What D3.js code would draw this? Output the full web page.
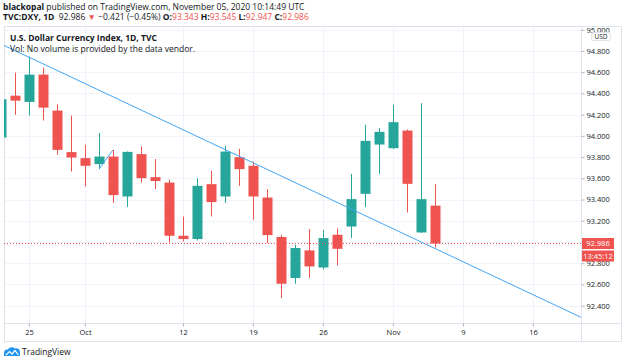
<!DOCTYPE html>
<html>
<head>
<meta charset="utf-8">
<script src="https://cdn.jsdelivr.net/npm/d3@7/dist/d3.min.js"></script>
<style>
    html, body { margin: 0; padding: 0; background: #fff; }
    svg { display: block; font-family: "Open Sans", "Noto Sans", sans-serif; }
</style>
</head>
<body>
<svg id="chart" width="625" height="364"></svg>
<script>
// daily candles, TVC:DXY
var dates = ["2020-09-23", "2020-09-24", "2020-09-25", "2020-09-28", "2020-09-29", "2020-09-30",
    "2020-10-01", "2020-10-02", "2020-10-05", "2020-10-06", "2020-10-07", "2020-10-08", "2020-10-09",
    "2020-10-12", "2020-10-13", "2020-10-14", "2020-10-15", "2020-10-16", "2020-10-19", "2020-10-20",
    "2020-10-21", "2020-10-22", "2020-10-23", "2020-10-26", "2020-10-27", "2020-10-28", "2020-10-29",
    "2020-10-30", "2020-11-02", "2020-11-03", "2020-11-04", "2020-11-05"];
var opens = [93.984, 94.379, 94.320, 94.577, 94.238, 93.847, 93.790, 93.734, 93.805, 93.429, 93.828, 93.611, 93.560,
    93.059, 93.028, 93.545, 93.429, 93.799, 93.718, 93.419, 93.047, 92.661, 92.921, 92.760, 93.068, 93.146, 93.454,
    93.918, 93.884, 94.050, 93.090, 93.343];
var highs = [94.420, 94.596, 94.746, 94.643, 94.298, 94.191, 93.915, 94.028, 93.868, 93.853, 93.899, 93.781, 93.586,
    93.240, 93.598, 93.671, 93.906, 93.878, 93.758, 93.498, 93.068, 92.974, 93.122, 93.115, 93.128, 93.642, 94.104,
    94.072, 94.292, 94.060, 94.308, 93.545];
var lows = [93.930, 94.198, 94.191, 94.144, 93.821, 93.664, 93.523, 93.687, 93.367, 93.329, 93.560, 93.498, 92.996,
    93.005, 93.015, 93.240, 93.367, 93.529, 93.209, 92.990, 92.472, 92.607, 92.661, 92.739, 92.779, 93.037, 93.329,
    93.642, 93.875, 93.278, 93.085, 92.947];
var closes = [94.345, 94.332, 94.577, 94.266, 93.868, 93.796, 93.718, 93.805, 93.442, 93.849, 93.602, 93.574, 93.059,
    93.028, 93.529, 93.376, 93.852, 93.687, 93.429, 93.065, 92.607, 92.943, 92.770, 93.037, 92.936, 93.404, 93.953,
    94.038, 94.129, 93.548, 93.404, 92.986];

var priceTicks = [92.4, 92.6, 92.8, 93.0, 93.2, 93.4, 93.6, 93.8, 94.0, 94.2, 94.4, 94.6, 94.8, 95.0];
var dateTicks = ["2020-09-25", "2020-10-01", "2020-10-12", "2020-10-19", "2020-10-26", "2020-11-02", "2020-11-09", "2020-11-16"];
var dateTickLabels = ["25", "Oct", "12", "19", "26", "Nov", "9", "16"];

// drawn trend lines: [date, price] pairs
var trendMain = [["2020-09-25", 94.741], ["2020-10-15", 93.871]];
var trendShort = [["2020-10-02", 93.687], ["2020-10-05", 93.868]];

var lastPrice = 92.986;
var countdown = "13:45:12";

(function () {
    var svg = d3.select("#chart"),
        pane = { left: 4, top: 26, right: 581, bottom: 323 },
        axisBottom = 341,
        frameRight = 621,
        up = "#26a69a",
        down = "#ef5350",
        gridColor = "#f0f3fa",
        borderColor = "#e0e3eb",
        textColor = "#131722";

    var parse = d3.timeParse("%Y-%m-%d"),
        fmt = d3.timeFormat("%Y-%m-%d");

    // trading days (weekdays) so that future ticks line up with the bars
    var days = d3.timeDay.range(parse(dates[0]), parse("2020-11-30")).filter(function (d) {
        return d.getDay() !== 0 && d.getDay() !== 6;
    });
    var idx = {};
    days.forEach(function (d, i) { idx[fmt(d)] = i; });

    var data = dates.map(function (d, i) {
        return { i: idx[d], o: opens[i], h: highs[i], l: lows[i], c: closes[i] };
    });

    var x = d3.scaleLinear()
        .domain([0.214, 41.43])
        .range([pane.left, pane.right]);

    var y = d3.scaleLinear()
        .domain([92.237, 95.035])
        .range([pane.bottom, pane.top]);

    var defs = svg.append("defs");
    defs.append("clipPath").attr("id", "paneClip")
        .append("rect")
        .attr("x", pane.left).attr("y", pane.top)
        .attr("width", pane.right - pane.left).attr("height", pane.bottom - pane.top);

    // header
    var h1 = svg.append("text").attr("x", 3).attr("y", 10)
        .style("font-size", "8.5px").attr("fill", textColor);
    h1.append("tspan").style("font-weight", "bold").text("blackopal");
    h1.append("tspan").text(" published on TradingView.com, November 05, 2020 10:14:49 UTC");

    var h2 = svg.append("text").attr("x", 3).attr("y", 20)
        .style("font-size", "8.5px").attr("fill", textColor);
    h2.append("tspan").style("font-weight", "bold").text("TVC:DXY, 1D");
    h2.append("tspan").text("\u00a0 92.986 ");
    h2.append("tspan").attr("fill", down).text("\u25bc");
    h2.append("tspan").text(" \u22120.421 (\u22120.45%) ");
    [["O:", opens[opens.length - 1]], ["H:", highs[highs.length - 1]],
     ["L:", lows[lows.length - 1]], ["C:", closes[closes.length - 1]]].forEach(function (p, k) {
        h2.append("tspan").style("font-weight", "bold").text((k ? " " : "") + p[0]);
        h2.append("tspan").attr("fill", down).text(p[1].toFixed(3));
    });

    // grid
    var g = svg.append("g");
    g.selectAll(".hgrid")
        .data(priceTicks)
        .enter().append("line")
        .attr("x1", pane.left).attr("x2", pane.right)
        .attr("y1", function (d) { return Math.round(y(d)) + 0.5; })
        .attr("y2", function (d) { return Math.round(y(d)) + 0.5; })
        .attr("stroke", gridColor);
    g.selectAll(".vgrid")
        .data(dateTicks)
        .enter().append("line")
        .attr("x1", function (d) { return Math.round(x(idx[d])) + 0.5; })
        .attr("x2", function (d) { return Math.round(x(idx[d])) + 0.5; })
        .attr("y1", pane.top).attr("y2", pane.bottom)
        .attr("stroke", gridColor);

    // frame
    svg.append("rect")
        .attr("x", pane.left + 0.5).attr("y", pane.top + 0.5)
        .attr("width", frameRight - pane.left).attr("height", axisBottom - pane.top)
        .attr("fill", "none").attr("stroke", borderColor);
    svg.append("line")
        .attr("x1", pane.right + 0.5).attr("x2", pane.right + 0.5)
        .attr("y1", pane.top).attr("y2", axisBottom)
        .attr("stroke", borderColor);
    svg.append("line")
        .attr("x1", pane.left).attr("x2", frameRight)
        .attr("y1", pane.bottom + 0.5).attr("y2", pane.bottom + 0.5)
        .attr("stroke", borderColor);

    var plot = svg.append("g").attr("clip-path", "url(#paneClip)");

    // candles
    var candle = plot.selectAll(".candle")
        .data(data)
        .enter().append("g")
        .attr("class", "candle");

    candle.append("line")
        .attr("x1", function (d) { return Math.round(x(d.i)) + 0.5; })
        .attr("x2", function (d) { return Math.round(x(d.i)) + 0.5; })
        .attr("y1", function (d) { return y(d.h); })
        .attr("y2", function (d) { return y(d.l); })
        .attr("stroke", function (d) { return d.c >= d.o ? up : down; });

    candle.append("rect")
        .attr("x", function (d) { return Math.round(x(d.i)) - 4.5; })
        .attr("width", 10)
        .attr("y", function (d) { return y(Math.max(d.o, d.c)); })
        .attr("height", function (d) { return Math.max(1, Math.abs(y(d.o) - y(d.c))); })
        .attr("fill", function (d) { return d.c >= d.o ? up : down; });

    // trend lines
    function trend(pts, extend) {
        var i0 = idx[pts[0][0]], i1 = idx[pts[1][0]],
            v0 = pts[0][1], v1 = pts[1][1],
            slope = (v1 - v0) / (i1 - i0);
        var a = extend ? x.domain()[0] : i0,
            b = extend ? x.domain()[1] : i1;
        plot.append("line")
            .attr("x1", x(a)).attr("y1", y(v0 + (a - i0) * slope))
            .attr("x2", x(b)).attr("y2", y(v0 + (b - i0) * slope))
            .attr("stroke", "#42a5f5")
            .attr("stroke-width", 1);
    }
    trend(trendMain, true);
    trend(trendShort, false);

    // last price line
    plot.append("line")
        .attr("x1", pane.left).attr("x2", pane.right)
        .attr("y1", Math.round(y(lastPrice)) + 0.5).attr("y2", Math.round(y(lastPrice)) + 0.5)
        .attr("stroke", down)
        .attr("stroke-dasharray", "1,2");

    // pane legend
    svg.append("text").attr("x", 10).attr("y", 41)
        .style("font-size", "8.5px").style("font-weight", "bold").attr("fill", textColor)
        .text("U.S. Dollar Currency Index, 1D, TVC");
    svg.append("text").attr("x", 10).attr("y", 52)
        .style("font-size", "8.5px").attr("fill", textColor)
        .text("Vol: No volume is provided by the data vendor.");

    // price axis; labels hidden behind the last price badge are dropped, as TradingView does
    var ly = y(lastPrice);
    var yAxis = svg.append("g")
        .attr("transform", "translate(" + (pane.right + 0.5) + ",0)")
        .call(d3.axisRight(y).tickValues(priceTicks).tickFormat(d3.format(".3f")).tickSize(3).tickPadding(2));
    yAxis.select(".domain").remove();
    yAxis.selectAll("line").attr("stroke", "#b2b5be");
    yAxis.selectAll("text").attr("fill", textColor).style("font-size", "7.5px").style("font-family", "\"Open Sans\", sans-serif");
    yAxis.selectAll(".tick").filter(function (d) { return Math.abs(y(d) - ly) < 7; }).select("text").remove();

    // USD badge
    svg.append("rect")
        .attr("x", 591.5).attr("y", 32.5).attr("width", 19).attr("height", 8).attr("rx", 2)
        .attr("fill", "#fff").attr("stroke", borderColor);
    svg.append("text").attr("x", 601).attr("y", 39)
        .attr("text-anchor", "middle").style("font-size", "6.5px").attr("fill", textColor).text("USD");

    // last price & countdown labels
    svg.append("rect").attr("x", pane.right + 1).attr("y", ly - 5.5).attr("width", 32).attr("height", 11).attr("fill", down);
    svg.append("text").attr("x", pane.right + 17).attr("y", ly + 3)
        .attr("text-anchor", "middle").style("font-size", "7.5px").attr("fill", "#fff").text(lastPrice.toFixed(3));
    svg.append("rect").attr("x", pane.right + 1).attr("y", ly + 7).attr("width", 32).attr("height", 11).attr("fill", down);
    svg.append("text").attr("x", pane.right + 17).attr("y", ly + 15.5)
        .attr("text-anchor", "middle").style("font-size", "7.5px").attr("fill", "#fff").text(countdown);

    // time axis
    var xAxis = svg.append("g")
        .attr("transform", "translate(0," + (pane.bottom + 0.5) + ")")
        .call(d3.axisBottom(x)
            .tickValues(dateTicks.map(function (d) { return idx[d]; }))
            .tickFormat(function (d, k) { return dateTickLabels[k]; })
            .tickSize(3).tickPadding(3));
    xAxis.select(".domain").remove();
    xAxis.selectAll("line").attr("stroke", "#b2b5be");
    xAxis.selectAll("text").attr("fill", textColor).style("font-size", "7.5px").style("font-family", "\"Open Sans\", sans-serif");

    // logo
    var logo = svg.append("g").attr("transform", "translate(4,347)");
    logo.append("path")
        .attr("d", "M0,9 L0,6 C0,3 2,2 4,2.5 C5,0 9,-0.5 11,1.5 C13,0.5 16,2 16,5 L16,9 Z")
        .attr("fill", "#2196f3");
    logo.append("path")
        .attr("d", "M2,8 L5.5,4.5 L8,7 L11,3.5 L14.5,8")
        .attr("fill", "none").attr("stroke", "#fff").attr("stroke-width", 1.2);
    svg.append("text").attr("x", 22).attr("y", 355)
        .style("font-size", "8.5px").attr("fill", textColor).text("TradingView");
})();
</script>
</body>
</html>
